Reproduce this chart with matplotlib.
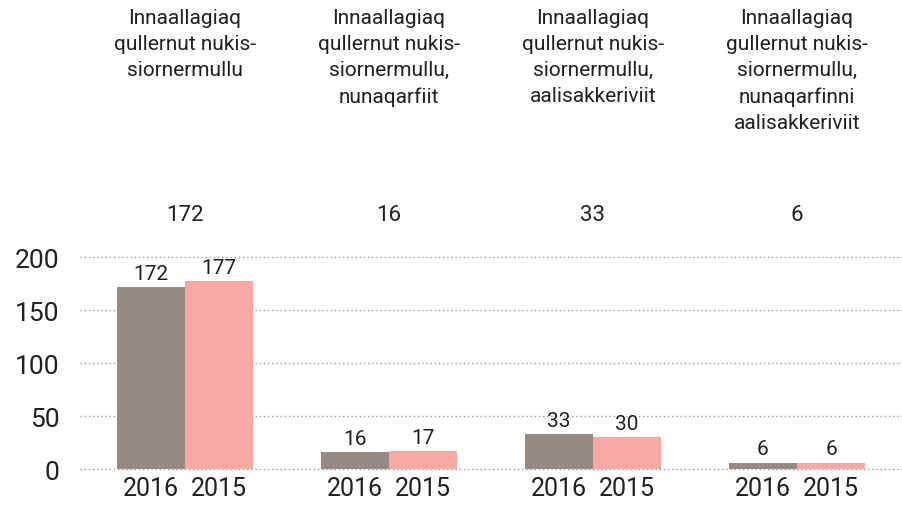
import numpy as np
import matplotlib
matplotlib.use("Agg")
import matplotlib.pyplot as plt
import matplotlib.transforms as mtransforms

plt.rcParams['font.family'] = ['Roboto', 'DejaVu Sans']

# Data
categories = [
    "Innaallagiaq\nqullernut nukis-\nsiornermullu",
    "Innaallagiaq\nqullernut nukis-\nsiornermullu,\nnunaqarfiit",
    "Innaallagiaq\nqullernut nukis-\nsiornermullu,\naalisakkeriviit",
    "Innaallagiaq\ngullernut nukis-\nsiornermullu,\nnunaqarfinni\naalisakkeriviit",
]
totals = [172, 16, 33, 6]
values_2016 = [172, 16, 33, 6]
values_2015 = [177, 17, 30, 6]
years = ["2016", "2015"]

grey = "#958b84"
pink = "#f7aaa4"
txt = "#231f20"

fig = plt.figure(figsize=(9.03, 5.06), dpi=100)
ax = fig.add_axes([0.0886, 0.0711, 0.9114, 0.419])

x = np.arange(len(categories))
w = 0.335
b1 = ax.bar(x - w / 2, values_2016, w, color=grey)
b2 = ax.bar(x + w / 2, values_2015, w, color=pink)
ax.bar_label(b1, padding=3, fontsize=15, color=txt)
ax.bar_label(b2, padding=3, fontsize=15, color=txt)

ax.set_ylim(0, 200)
ax.set_xlim(-0.515, len(categories) - 1 + 0.52)
ax.set_yticks(np.arange(0, 201, 50))
ax.grid(axis="y", linestyle=(0, (1, 2)), color="#9a9a9a", linewidth=1)
ax.set_axisbelow(True)
for line in ax.get_ygridlines():
    line.set_clip_on(False)
for s in ax.spines.values():
    s.set_visible(False)

ax.set_xticks(np.concatenate([x - w / 2, x + w / 2]))
ax.set_xticklabels([years[0]] * len(x) + [years[1]] * len(x))
ax.tick_params(axis="x", length=0, labelsize=18, colors=txt, pad=5)
ax.tick_params(axis="y", length=0, labelsize=19, colors=txt, pad=15)

trans = mtransforms.blended_transform_factory(ax.transData, fig.transFigure)
for xi, cat, tot in zip(x, categories, totals):
    ax.text(xi, 0.982, cat, transform=trans, ha="center", va="top",
            fontsize=15, color=txt, linespacing=1.47)
    ax.text(xi, 0.574, str(tot), transform=trans, ha="center", va="center",
            fontsize=16, color=txt)

fig.savefig("out.png", dpi=100)
